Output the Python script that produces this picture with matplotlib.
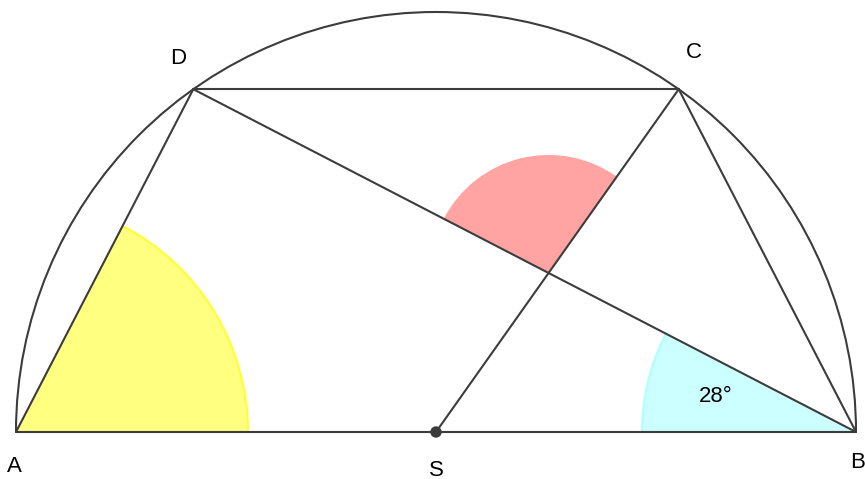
import numpy as np
import matplotlib
matplotlib.use("Agg")
import matplotlib.pyplot as plt
from matplotlib.patches import Wedge, Arc, Circle

# geometry (pixel units, S at origin, y up)
radius = 420.0
angle_d = 125.3          # polar angle of D on the semicircle
angle_label = "28°"
r_yellow, r_cyan, r_red = 232, 214, 118

line_col = "#3c3c3c"
lw = 1.5


def polar(r, deg):
    t = np.radians(deg)
    return np.array([r * np.cos(t), r * np.sin(t)])


S = np.array([0.0, 0.0])
A = polar(radius, 180)
B = polar(radius, 0)
D = polar(radius, angle_d)
C = polar(radius, 180 - angle_d)

# intersection of SC and BD
t = (B[0] - S[0]) / ((C[0] - S[0]) + (B[0] - D[0]))
P = S + t * (C - S)

ang_bd = np.degrees(np.arctan2(D[1] - B[1], D[0] - B[0]))   # direction B->D
ang_ad = np.degrees(np.arctan2(D[1] - A[1], D[0] - A[0]))
ang_sc = np.degrees(np.arctan2(C[1] - S[1], C[0] - S[0]))

fig = plt.figure(figsize=(8.65, 4.79), dpi=100)
ax = fig.add_axes([0, 0, 1, 1])
ax.set_xlim(-436, 429)
ax.set_ylim(-47, 432)
ax.set_aspect("equal")
ax.axis("off")

# angle sectors
ax.add_patch(Wedge(A, r_yellow, 0, ang_ad, facecolor="#ffff80", edgecolor="none", zorder=1))
ax.add_patch(Arc(A, 2 * r_yellow, 2 * r_yellow, theta1=0, theta2=ang_ad,
                 color="#ffff30", lw=1.5, zorder=1.5))
ax.add_patch(Wedge(B, r_cyan, ang_bd, 180, facecolor="#ccffff", edgecolor="none", zorder=1))
ax.add_patch(Arc(B, 2 * r_cyan, 2 * r_cyan, theta1=ang_bd, theta2=180,
                 color="#b0ffff", lw=1.5, zorder=1.5))
ax.add_patch(Wedge(P, r_red, ang_sc, ang_bd, facecolor="#ffa3a3",
                   edgecolor="none", zorder=1))

# semicircle
ax.add_patch(Arc(S, 2 * radius, 2 * radius, theta1=0, theta2=180,
                 color=line_col, lw=lw, zorder=2))

segments = [(A, B), (A, D), (D, C), (C, B), (B, D), (S, C)]
for p, q in segments:
    ax.plot([p[0], q[0]], [p[1], q[1]], color=line_col, lw=lw,
            solid_capstyle="round", zorder=3)

ax.add_patch(Circle(S, 5, color=line_col, zorder=4))

fam = ["Liberation Sans", "DejaVu Sans"]
fs = 16
ax.text(A[0] - 2, -34, "A", fontsize=fs, family=fam, ha="center", va="center")
ax.text(B[0] + 2, -31, "B", fontsize=fs, family=fam, ha="center", va="center")
ax.text(0, -38, "S", fontsize=fs, family=fam, ha="center", va="center")
ax.text(D[0] - 15, 374, "D", fontsize=fs, family=fam, ha="center", va="center")
ax.text(C[0] + 15, 380, "C", fontsize=fs, family=fam, ha="center", va="center")
ax.text(280, 35, angle_label, fontsize=fs, family=fam, ha="center", va="center")

fig.savefig("out.png", dpi=100)
